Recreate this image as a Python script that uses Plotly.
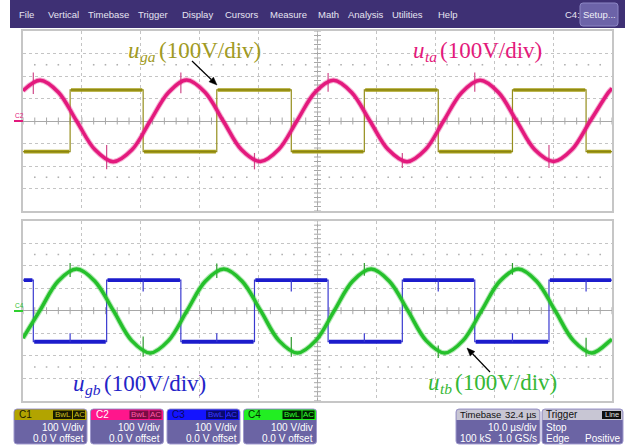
import math
import plotly.graph_objects as go

W, H = 625, 448

# ---------------- data (time in µs, 10 µs/div ; voltage in V, 100 V/div) ----------------
# u_ta : pink sine, top screen
ta_t = [0, 2.9, 6.0, 9.1, 12.2, 15.3, 18.5, 21.6, 24.7, 27.8, 30.9, 34.0, 37.1, 40.3, 43.4, 46.5,
        49.6, 52.7, 55.8, 58.9, 62.0, 65.2, 68.3, 71.4, 74.5, 77.6, 80.7, 83.8, 86.9, 90.1, 93.2,
        96.3, 99.4, 100]
ta_v = [134, 181, 128, 0, -127, -181, -128, 0, 127, 182, 128, 0, -128, -180, -127, 0,
        128, 181, 127, 0, -127, -181, -128, 0, 127, 181, 128, 0, -128, -180, -127,
        0, 127, 145]

# u_tb : green sine, bottom screen
tb_t = [0, 2.85, 5.95, 9.1, 12.2, 15.35, 18.45, 21.6, 24.7, 27.85, 30.95, 34.1, 37.2, 40.35,
        43.45, 46.6, 49.7, 52.85, 55.95, 59.1, 62.2, 65.35, 68.45, 71.6, 74.7, 77.85, 80.95,
        84.1, 87.2, 90.35, 93.45, 96.6, 99.7, 100]
tb_v = [-122, 0, 131, 185, 131, 0, -133, -188, -133, 0, 131, 185, 131, 0,
        -133, -188, -133, 0, 131, 185, 131, 0, -133, -188, -133, 0, 131,
        185, 131, 0, -133, -188, -133, -128]

# u_ga : olive square wave (top screen), starts low
ga_edges = [8.0, 20.4, 32.9, 45.55, 57.95, 70.5, 83.1, 95.6]
ga_levels = [-136, 138]          # low, high
# u_gb : blue square wave (bottom screen), starts high
gb_edges = [1.75, 14.2, 26.8, 39.3, 51.8, 64.4, 76.7, 89.3]
gb_levels = [136, -138]          # high, low

# switching spikes seen on the traces
ta_spk_t = [1.75, 14.2, 26.8, 39.3, 51.8, 64.4, 76.7, 89.3]
ta_spk_lo = [120, -215, 123, -215, 130, -209, 130, -209]
ta_spk_hi = [215, -107, 215, -142, 213, -142, 215, -107]
tb_spk_t = [8.0, 20.4, 32.9, 45.55, 57.95, 70.5, 83.1, 95.6]
tb_spk_lo = [150, -205, 145, -205, 155, -210, 160, -205]
tb_spk_hi = [212, -115, 210, -117, 212, -155, 212, -120]
gb_spk_t = [8.0, 20.4, 32.9, 45.55, 57.95, 70.5, 83.1, 95.6]
gb_spk_lo = [-138, 85, -138, 85, -138, 85, -138, 85]
gb_spk_hi = [-100, 136, -100, 136, -100, 136, -100, 136]

trig_t = 82.5

menu_items = ["File", "Vertical", "Timebase", "Trigger", "Display", "Cursors", "Measure",
              "Math", "Analysis", "Utilities", "Help"]
menu_x = [17, 46, 86, 136, 180, 223, 268, 316, 346, 390, 436]

channels = ["C1", "C2", "C3", "C4"]
ch_scale = ["100 V/div"] * 4
ch_offset = ["0.0 V offset"] * 4

# waveform labels: (symbol, subscript, scale text)
labels = [("u", "ga", "(100V/div)"), ("u", "ta", "(100V/div)"),
          ("u", "gb", "(100V/div)"), ("u", "tb", "(100V/div)")]

# ---------------- colours ----------------
C_YEL = "#a69e19"
C_PINK = "#e3197d"
C_BLUE = "#1c1ccc"
C_GRN = "#25c02b"

def PX(x):
    return x / W

def PY(y):
    return 1 - y / H

fig = go.Figure()

def add(tr, row):
    tr.update(xaxis="x" if row == 1 else "x2", yaxis="y" if row == 1 else "y2")
    fig.add_trace(tr)

def step_xy(edges, levels):
    xs, ys = [0], [levels[0]]
    cur = 0
    for e in edges:
        xs += [e, e]
        ys += [levels[cur], levels[1 - cur]]
        cur = 1 - cur
    xs.append(100)
    ys.append(levels[cur])
    return xs, ys

def plateau_xy(edges, levels):
    b = [0] + edges + [100]
    xs, ys = [], []
    for i in range(len(b) - 1):
        lv = levels[i % 2]
        xs += [b[i] + 0.15, b[i + 1] - 0.15, None]
        ys += [lv, lv, None]
    return xs, ys

def spikes_xy(ts, lo, hi):
    xs, ys = [], []
    for t, a, b in zip(ts, lo, hi):
        xs += [t, t, None]
        ys += [a, b, None]
    return xs, ys

# ---------- screen decorations (centre ticks and dot rows) ----------
for row in (1, 2):
    tx = [i * 2 for i in range(51)]
    add(go.Scatter(x=tx, y=[0] * len(tx), mode="markers", hoverinfo="skip",
                   marker=dict(symbol="line-ns", size=5, line=dict(width=1, color="#a8a8a8"))), row)
    ty = [-400 + i * 20 for i in range(41)]
    add(go.Scatter(x=[50] * len(ty), y=ty, mode="markers", hoverinfo="skip",
                   marker=dict(symbol="line-ew", size=5, line=dict(width=1, color="#a8a8a8"))), row)
    dx = [i * 2 for i in range(51) if i % 5 != 0]
    for yy in (250, -250):
        add(go.Scatter(x=dx, y=[yy] * len(dx), mode="markers", hoverinfo="skip",
                       marker=dict(symbol="square", size=1.6, color="#b0b0b0")), row)

# ---------- top screen ----------
x, y = step_xy(ga_edges, ga_levels)
add(go.Scatter(x=x, y=y, mode="lines", line=dict(color="#958e1c", width=1.2)), 1)
x, y = plateau_xy(ga_edges, ga_levels)
add(go.Scatter(x=x, y=y, mode="lines", line=dict(color=C_YEL, width=3.6)), 1)
add(go.Scatter(x=x, y=y, mode="lines", line=dict(color="#8a8412", width=1.2)), 1)
x, y = spikes_xy(ta_spk_t, ta_spk_lo, ta_spk_hi)
add(go.Scatter(x=x, y=y, mode="lines", line=dict(color="#d04a8a", width=1.2)), 1)
add(go.Scatter(x=ta_t, y=ta_v, mode="lines", line=dict(color=C_PINK, width=5.5, shape="spline"),
               opacity=0.35), 1)
add(go.Scatter(x=ta_t, y=ta_v, mode="lines", line=dict(color=C_PINK, width=3.5, shape="spline")), 1)

# ---------- bottom screen ----------
x, y = step_xy(gb_edges, gb_levels)
add(go.Scatter(x=x, y=y, mode="lines", line=dict(color="#3a3ad0", width=1.2)), 2)
x, y = plateau_xy(gb_edges, gb_levels)
add(go.Scatter(x=x, y=y, mode="lines", line=dict(color=C_BLUE, width=3.8)), 2)
x, y = spikes_xy(gb_spk_t, gb_spk_lo, gb_spk_hi)
add(go.Scatter(x=x, y=y, mode="lines", line=dict(color="#3a3ad0", width=1.2)), 2)
x, y = spikes_xy(tb_spk_t, tb_spk_lo, tb_spk_hi)
add(go.Scatter(x=x, y=y, mode="lines", line=dict(color="#2f9a2f", width=1.2)), 2)
add(go.Scatter(x=tb_t, y=tb_v, mode="lines", line=dict(color=C_GRN, width=5.5, shape="spline"),
               opacity=0.35), 2)
add(go.Scatter(x=tb_t, y=tb_v, mode="lines", line=dict(color=C_GRN, width=3.5, shape="spline")), 2)

# trigger position markers
add(go.Scatter(x=[trig_t], y=[-414], mode="markers", cliponaxis=False,
               marker=dict(symbol="triangle-up", size=7, color="#ff1a8c")), 1)
add(go.Scatter(x=[trig_t], y=[-416], mode="markers", cliponaxis=False,
               marker=dict(symbol="triangle-up", size=7, color="#20e020")), 2)

xcommon = dict(range=[0, 100], dtick=10, tick0=0, showgrid=True, gridcolor="#c4c4c4",
               griddash="dot", gridwidth=1, showticklabels=False, ticks="", zeroline=False,
               showline=True, mirror=True, linecolor="#c6c6c6", linewidth=2, fixedrange=True)
ycommon = dict(range=[-400, 400], dtick=100, tick0=0, showgrid=True, gridcolor="#c4c4c4",
               griddash="dot", gridwidth=1, showticklabels=False, ticks="", zeroline=True,
               zerolinecolor="#a8a8a8", zerolinewidth=1,
               showline=True, mirror=True, linecolor="#c6c6c6", linewidth=2, fixedrange=True)

fig.update_layout(
    width=W, height=H, margin=dict(l=0, r=0, t=0, b=0),
    paper_bgcolor="white", plot_bgcolor="white", showlegend=False,
    xaxis=dict(domain=[PX(23), PX(612)], anchor="y", **xcommon),
    yaxis=dict(domain=[PY(211), PY(31)], anchor="x", **ycommon),
    xaxis2=dict(domain=[PX(23), PX(612)], anchor="y2", **xcommon),
    yaxis2=dict(domain=[PY(400.7), PY(220.7)], anchor="x2", **ycommon),
)

shapes = []
# vertical centre lines
for xr, yr in (("x", "y domain"), ("x2", "y2 domain")):
    shapes.append(dict(type="line", xref=xr, yref=yr, x0=50, x1=50, y0=0, y1=1,
                       line=dict(color="#a8a8a8", width=1), layer="below"))

def rpath(x0, y0, x1, y1, r, top_only=False):
    def p(a, b):
        return f"{PX(a):.5f},{PY(b):.5f}"
    if top_only:
        return (f"M {p(x0, y1)} L {p(x0, y0 + r)} Q {p(x0, y0)} {p(x0 + r, y0)} "
                f"L {p(x1 - r, y0)} Q {p(x1, y0)} {p(x1, y0 + r)} L {p(x1, y1)} Z")
    return (f"M {p(x0 + r, y0)} L {p(x1 - r, y0)} Q {p(x1, y0)} {p(x1, y0 + r)} "
            f"L {p(x1, y1 - r)} Q {p(x1, y1)} {p(x1 - r, y1)} L {p(x0 + r, y1)} "
            f"Q {p(x0, y1)} {p(x0, y1 - r)} L {p(x0, y0 + r)} Q {p(x0, y0)} {p(x0 + r, y0)} Z")

def rect(x0, y0, x1, y1, fill, line=None, lw=0):
    shapes.append(dict(type="rect", xref="paper", yref="paper", x0=PX(x0), x1=PX(x1),
                       y0=PY(y1), y1=PY(y0), fillcolor=fill,
                       line=dict(color=line or fill, width=lw)))

def arrow(tx, ty, hx, hy, color="#000000"):
    # shaft plus filled head, pixel coordinates
    dx, dy = hx - tx, hy - ty
    L = math.hypot(dx, dy)
    ux, uy = dx / L, dy / L
    bx, by = hx - 8 * ux, hy - 8 * uy
    shapes.append(dict(type="line", xref="paper", yref="paper", x0=PX(tx), y0=PY(ty),
                       x1=PX(bx), y1=PY(by), line=dict(color=color, width=1.2)))
    p1 = (bx - 3.2 * uy, by + 3.2 * ux)
    p2 = (bx + 3.2 * uy, by - 3.2 * ux)
    path = (f"M {PX(hx):.5f},{PY(hy):.5f} L {PX(p1[0]):.5f},{PY(p1[1]):.5f} "
            f"L {PX(p2[0]):.5f},{PY(p2[1]):.5f} Z")
    shapes.append(dict(type="path", xref="paper", yref="paper", path=path,
                       fillcolor=color, line=dict(color=color, width=0.5)))

annotations = []

def txt(s, x, y, color="white", size=9.5, anchor="left", family="Liberation Sans", style="normal"):
    annotations.append(dict(text=s, x=PX(x), y=PY(y), xref="paper", yref="paper",
                            xanchor=anchor, yanchor="middle", showarrow=False,
                            font=dict(color=color, size=size, family=family, style=style)))

# menu bar
rect(10, 0, 625, 28, "#3e3074")
for s, xx in zip(menu_items, menu_x):
    txt(s, xx, 14.5, color="#e6e4f2", size=9.5)
txt("C4:", 563, 14.5, color="#e6e4f2", size=9.5)
shapes.append(dict(type="path", xref="paper", yref="paper", path=rpath(580, 3, 618, 26, 3),
                   fillcolor="#6c63a8", line=dict(color="#8c86c4", width=1)))
txt("Setup...", 599, 14.5, color="#f0f0f8", size=9.5, anchor="center")

# channel markers at left of screens
rect(14, 120, 23, 122, C_PINK)
txt("C2", 19, 115, color=C_PINK, size=6.5, anchor="center")
rect(14, 310, 23, 312, "#30d030")
txt("C4", 19, 305, color="#30c030", size=6.5, anchor="center")

# channel descriptor boxes
hdr_col = ["#b2a400", "#ff168c", "#1414ff", "#22ee22"]
hdr_txt = ["#202000", "#ffffff", "#0a0a60", "#003000"]
badge_bg = ["#1a1a00", "#7a0c44", "#0a0a70", "#002200"]
badge_fg = ["#c8bc20", "#ff5aa8", "#3a3aff", "#30ff30"]
box_x = [14, 90.5, 167, 243.5]
for i, ch in enumerate(channels):
    x0 = box_x[i]
    x1 = x0 + 73
    shapes.append(dict(type="path", xref="paper", yref="paper", path=rpath(x0, 409, x1, 444, 3),
                       fillcolor="#6b64a4", line=dict(color="#9e98cc", width=1)))
    shapes.append(dict(type="path", xref="paper", yref="paper",
                       path=rpath(x0 + 0.5, 409.5, x1 - 0.5, 420, 3, top_only=True),
                       fillcolor=hdr_col[i], line=dict(width=0)))
    rect(x1 - 34, 410.5, x1 - 15, 419, badge_bg[i])
    rect(x1 - 14, 410.5, x1 - 2, 419, badge_bg[i])
    txt(ch, x0 + 3, 414.8, color=hdr_txt[i], size=10)
    txt("BwL", x1 - 24.5, 414.8, color=badge_fg[i], size=8, anchor="center")
    txt("AC", x1 - 8, 414.8, color=badge_fg[i], size=8, anchor="center")
    txt(ch_scale[i], x1 - 1.5, 427, size=10, anchor="right")
    txt(ch_offset[i], x1 - 1.5, 438, size=10, anchor="right")

# timebase box
shapes.append(dict(type="path", xref="paper", yref="paper", path=rpath(456, 409, 540, 444, 3),
                   fillcolor="#6b64a4", line=dict(color="#9e98cc", width=1)))
shapes.append(dict(type="path", xref="paper", yref="paper", path=rpath(456.5, 409.5, 539.5, 420, 3, True),
                   fillcolor="#c8c6d4", line=dict(width=0)))
txt("Timebase", 457.5, 414.8, color="#101010", size=9.5)
txt("32.4 µs", 539, 414.8, color="#101010", size=9.5, anchor="right")
txt("10.0 µs/div", 539, 427, size=10, anchor="right")
txt("100 kS", 458, 438, size=10)
txt("1.0 GS/s", 539, 438, size=10, anchor="right")

# trigger box
shapes.append(dict(type="path", xref="paper", yref="paper", path=rpath(542, 409, 623, 444, 3),
                   fillcolor="#6b64a4", line=dict(color="#9e98cc", width=1)))
shapes.append(dict(type="path", xref="paper", yref="paper", path=rpath(542.5, 409.5, 622.5, 420, 3, True),
                   fillcolor="#c8c6d4", line=dict(width=0)))
rect(602, 411, 621, 419, "#101010")
txt("Trigger", 544, 414.8, color="#101010", size=10)
txt("Line", 611.5, 414.8, color="#e0e0e0", size=7.5, anchor="center")
txt("Stop", 544, 427, size=10)
txt("Edge", 544, 438, size=10)
txt("Positive", 622, 438, size=10, anchor="right")

# waveform labels, built from symbol + subscript + scale pieces
SER = "Liberation Serif"
lab_pos = [(126, 50), (411, 51), (71, 383), (426, 382)]
lab_sub_w = [15, 11.7, 15, 11.7]
lab_col = ["#a09a22", "#e3197b", "#2424c8", "#35b835"]
for (sym, sub, scale), (lx, ly), sw, col in zip(labels, lab_pos, lab_sub_w, lab_col):
    txt(sym, lx, ly, color=col, size=23, family=SER, style="italic")
    txt(sub, lx + 11.5, ly + 6, color=col, size=15.5, family=SER, style="italic")
    txt(scale, lx + 11.5 + sw + 4, ly, color=col, size=23, family=SER)

# arrows (pixel positions of tail and head)
arrow(192, 61, 217, 85)
arrow(490, 372, 467, 348)

fig.update_layout(shapes=shapes, annotations=annotations)
fig.write_html("out.html")
